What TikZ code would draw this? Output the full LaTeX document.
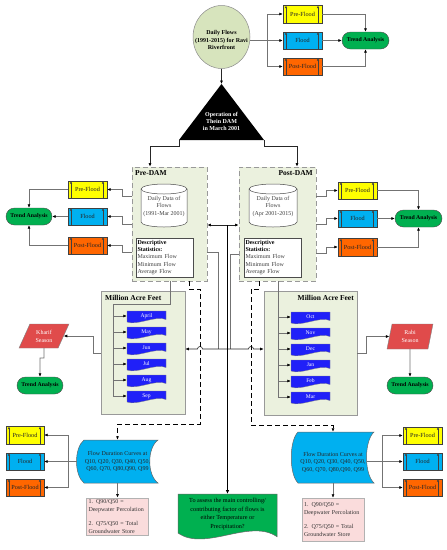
\documentclass[tikz,border=0pt]{standalone}
\usepackage{fontspec}
\setmainfont{Liberation Serif}
\usetikzlibrary{arrows.meta,shapes.geometric,calc}
\definecolor{cyel}{HTML}{FFFF00}
\definecolor{cblu}{HTML}{00B0F0}
\definecolor{corg}{HTML}{FF6600}
\definecolor{cgrn}{HTML}{00B050}
\definecolor{cbox}{HTML}{EBF1DE}
\definecolor{ccirc}{HTML}{D7E4BD}
\definecolor{cmon}{HTML}{2020F8}
\definecolor{cred}{HTML}{E04B4B}
\definecolor{cpink}{HTML}{FADCDC}
\newcommand\monthshape[2]{%
 \filldraw[fill=cmon, draw=black!50, line width=0.3pt] ({#1-19.5},{#2-5.5}) -- ({#1+19.5},{#2-5.5}) -- ({#1+19.5},{#2+3}) .. controls ({#1+9.75},{#2-1.5}) and ({#1-9.75},{#2+9.5}) .. ({#1-19.5},{#2+5.5}) -- cycle;}
\begin{document}
\begin{tikzpicture}[x=1pt,y=-1pt,
 fs/.style={font=\fontsize{6}{7.2}\selectfont},
 flbox/.style={draw=black!75, line width=0.4pt, minimum width=39pt, minimum height=17.5pt, inner sep=0pt, font=\fontsize{6.2}{7}\selectfont, text=black!85,
   path picture={
     \draw[line width=0.4pt, -{Latex[length=2.5pt,width=2.2pt]}] ([xshift=3pt]path picture bounding box.south west) -- ([xshift=3pt,yshift=-0.3pt]path picture bounding box.north west);
     \draw[line width=0.4pt, -{Latex[length=2.5pt,width=2.2pt]}] ([xshift=-4pt]path picture bounding box.south east) -- ([xshift=-4pt,yshift=-0.3pt]path picture bounding box.north east);
   }},
 trend/.style={draw=black!70, fill=cgrn, line width=0.4pt, rounded corners=8.5pt, minimum width=47pt, minimum height=17pt, inner sep=0pt, font=\bfseries\fontsize{5.8}{7}\selectfont},
 conn/.style={draw=black!55, line width=0.55pt},
 dconn/.style={draw=black!85, line width=0.6pt},
 arr/.style={-{Latex[length=3.5pt,width=3pt,color=black]}},
 darr/.style={{Latex[length=3.5pt,width=3pt,color=black]}-{Latex[length=3.5pt,width=3pt,color=black]}},
 dashbox/.style={draw=black!40, dash pattern=on 5pt off 3pt, line width=0.8pt, fill=cbox, inner sep=0pt},
 mbox/.style={draw=black!40, fill=cbox, line width=0.6pt, inner sep=0pt},
 tdash/.style={draw=black, line width=1pt, dash pattern=on 5pt off 3pt},
 ttl/.style={font=\bfseries\fontsize{7.5}{9}\selectfont, inner sep=0pt},
 mon/.style={minimum width=39pt, minimum height=10pt, inner sep=0pt, text=white, font=\fontsize{5.6}{7}\selectfont},
 stat/.style={draw=black!70, fill=white, line width=0.5pt, minimum width=57pt, minimum height=39pt, text width=54pt, align=left, inner sep=1.5pt, font=\fontsize{6}{7.2}\selectfont, text=black!75},
 cyltxt/.style={align=center, font=\fontsize{6}{7.2}\selectfont, text=black!75},
 qbox/.style={draw=black!30, fill=cpink, line width=0.5pt, minimum width=62pt, text width=58pt, align=left, inner sep=2pt, font=\fontsize{6}{7.8}\selectfont, text=black!80},
 para/.style={trapezium, trapezium stretches=true, fill=cred, draw=black!50, line width=0.4pt, text=white, align=center, inner sep=0pt, font=\fontsize{6}{8}\selectfont}
]
\useasboundingbox (0,0) rectangle (447,550);
\fill[white] (0,0) rectangle (447,550);

% ---------- top ----------
\node[ellipse, draw=black!45, fill=ccirc, line width=0.5pt, minimum width=57pt, minimum height=63pt, inner sep=0pt] (circ) at (221.5,37) {};
\node[align=center, font=\bfseries\fontsize{6}{7.3}\selectfont, inner sep=0pt] (circT) at (221.5,40) {Daily Flows\\(1991-2015) for Ravi\\Riverfront};

\node[flbox, fill=cyel] (preT) at (302.5,14) {Pre-Flood};
\node[flbox, fill=cblu] (flT) at (302.5,40.5) {Flood};
\node[flbox, fill=corg] (postT) at (302.5,66.5) {Post-Flood};
\node[trend] (trT) at (365.5,40.5) {Trend Analysis};

\draw[conn,arr] (circ.east |- flT.west) -- (flT.west);
\draw[conn,arr] (267,40.5) |- (preT.west);
\draw[conn,arr] (267,40.5) |- (postT.west);
\draw[conn,arr] (preT.east) -| (trT.north);
\draw[conn,arr] (flT.east) -- (trT.west);
\draw[conn,arr] (postT.east) -| (trT.south);

% triangle
\coordinate (damT) at (221.5,84);
\coordinate (damL) at (179,140);
\coordinate (damR) at (264,140);
\fill[black] (damT) -- (damR) -- (damL) -- cycle;
\node[align=center, text=white, font=\bfseries\fontsize{6}{7.4}\selectfont, inner sep=0pt] (dam) at (221.5,121.5) {Operation of\\Thein DAM\\in March 2001};
\draw[dconn,arr] (circ.south) -- (damT);

% ---------- Pre-DAM / Post-DAM ----------
\node[dashbox, minimum width=75pt, minimum height=114pt] (predam) at (169.5,224) {};
\node[dashbox, minimum width=77pt, minimum height=114pt] (postdam) at (277.5,224) {};
\node[ttl, anchor=west] (tpre) at (135,173) {Pre-DAM};
\node[ttl, anchor=east] (tpost) at (313,173) {Post-DAM};

\draw[dconn,arr] (damL) -- (179,146) -- (150,146) -- (predam.north -| 150,0);
\draw[dconn,arr] (damR) -- (264,146) -- (297,146) -- (postdam.north -| 297,0);

% cylinders
\filldraw[fill=white, draw=black!70, line width=0.5pt] (141,189) -- (141,222) arc[start angle=180, end angle=0, x radius=23, y radius=5] -- (187,189) arc[start angle=0, end angle=-180, x radius=23, y radius=5] -- cycle;
\draw[black!70, line width=0.5pt] (141,189) arc[start angle=180, end angle=0, x radius=23, y radius=5];
\node[cyltxt] (cylL) at (164,206.5) {Daily Data of\\Flows\\(1991-Mar 2001)};
\filldraw[fill=white, draw=black!70, line width=0.5pt] (249,189) -- (249,222) arc[start angle=180, end angle=0, x radius=24, y radius=5] -- (297,189) arc[start angle=0, end angle=-180, x radius=24, y radius=5] -- cycle;
\draw[black!70, line width=0.5pt] (249,189) arc[start angle=180, end angle=0, x radius=24, y radius=5];
\node[cyltxt] (cylR) at (273,206.5) {Daily Data of\\Flows\\(Apr 2001-2015)};

\node[stat] (statL) at (164.5,257.5) {\textcolor{black}{\textbf{Descriptive}}\\\textcolor{black}{\textbf{Statistics:}}\\Maximum Flow\\Minimum Flow\\Average Flow};
\node[stat] (statR) at (272.5,257.5) {\textcolor{black}{\textbf{Descriptive}}\\\textcolor{black}{\textbf{Statistics:}}\\Maximum Flow\\Minimum Flow\\Average Flow};

% left flood group
\node[flbox, fill=cyel] (preL) at (87.5,189.5) {Pre-Flood};
\node[flbox, fill=cblu] (flL) at (87.5,216.5) {Flood};
\node[flbox, fill=corg] (postL) at (87.5,245.5) {Post-Flood};
\node[trend, minimum width=46pt] (trL) at (29,216.5) {Trend Analysis};
\draw[conn,arr] (predam.west |- 0,196) -- (122,196) |- (preL.east);
\draw[conn,arr] (predam.west |- 0,224) -- (122,224) |- (flL.east);
\draw[conn,arr] (predam.west |- 0,252) -- (122,252) |- (postL.east);
\draw[conn,arr] (preL.west) -| (trL.north);
\draw[conn,arr] (flL.west) -- (trL.east);
\draw[conn,arr] (postL.west) -| (trL.south);

% right flood group
\node[flbox, fill=cyel] (preR) at (357.5,190.5) {Pre-Flood};
\node[flbox, fill=cblu] (flR) at (357.5,218.5) {Flood};
\node[flbox, fill=corg] (postR) at (357.5,247) {Post-Flood};
\node[trend] (trR) at (418.5,218.5) {Trend Analysis};
\draw[conn,arr] (postdam.east |- 0,196) -- (326,196) |- (preR.west);
\draw[conn,arr] (postdam.east |- 0,224) -- (326,224) |- (flR.west);
\draw[conn,arr] (postdam.east |- 0,253) -- (326,253) |- (postR.west);
\draw[conn,arr] (preR.east) -| (trR.north);
\draw[conn,arr] (flR.east) -- (trR.west);
\draw[conn,arr] (postR.east) -| (trR.south);

% ---------- Million Acre Feet ----------
\node[mbox, minimum width=84pt, minimum height=123pt] (mafL) at (143,352.5) {};
\node[mbox, minimum width=93pt, minimum height=124pt] (mafR) at (310.5,353) {};
\node[ttl, anchor=west] (tmafL) at (105,297.5) {Million Acre Feet};
\node[ttl, anchor=east] (tmafR) at (354,297.5) {Million Acre Feet};

\monthshape{146.5}{316.5}\node[mon] (apr) at (146.5,316) {April};
\monthshape{146.5}{332.5}\node[mon] (may) at (146.5,332) {May};
\monthshape{146.5}{348.5}\node[mon] (jun) at (146.5,348) {Jun};
\monthshape{146.5}{364.5}\node[mon] (jul) at (146.5,364) {Jul};
\monthshape{146.5}{380.5}\node[mon] (aug) at (146.5,380) {Aug};
\monthshape{146.5}{396.5}\node[mon] (sep) at (146.5,396) {Sep};
\monthshape{310.5}{317.5}\node[mon] (oct) at (310.5,317) {Oct};
\monthshape{310.5}{333.5}\node[mon] (nov) at (310.5,333) {Nov};
\monthshape{310.5}{349.5}\node[mon] (dec) at (310.5,349) {Dec};
\monthshape{310.5}{365.5}\node[mon] (jan) at (310.5,365) {Jan};
\monthshape{310.5}{381.5}\node[mon] (feb) at (310.5,381) {Feb};
\monthshape{310.5}{397.5}\node[mon] (mar) at (310.5,397) {Mar};

\draw[conn] (predam.south -| 170,0) -- (170,304) -- (113,304) -- (113,396);
\foreach \m in {apr,may,jun,jul,aug,sep} \draw[conn,arr] (\m.west -| 113,0) -- (\m.west);
\draw[conn] (postdam.south -| 278,0) -- (278,397);
\foreach \m in {oct,nov,dec,jan,feb,mar} \draw[conn,arr] (\m.west -| 278,0) -- (\m.west);

% seasons
\node[para, trapezium left angle=62, trapezium right angle=118, minimum width=50pt, minimum height=24pt] (kharif) at (44,336) {Kharif\\Season};
\node[para, trapezium left angle=79, trapezium right angle=101, minimum width=46pt, minimum height=25pt] (rabi) at (410,336.5) {Rabi\\Season};
\node[trend, minimum width=46pt] (trK) at (40,385.5) {Trend Analysis};
\node[trend, minimum width=46pt] (trRb) at (410,385.5) {Trend Analysis};
\draw[conn,arr] (mafL.west |- 0,353) -- (93,353) |- (kharif.east);
\draw[conn,arr] (mafR.east |- 0,353) -- (366,353) |- (rabi.west);
\draw[conn,arr] (kharif.south) -- (44,358) -| (trK.north);
\draw[conn,arr] (rabi.south) -- (trRb.north);

% ---------- centre connectors ----------
\draw[dconn,darr] (predam.east |- 0,225) -- (postdam.west |- 0,225);
\coordinate (jc) at (227.5,225);
\draw[conn] (predam.east |- 0,252) -- (218,252) -- (218,349);
\draw[conn] (postdam.west |- 0,254) -- (230,254) -- (230,349);
\draw[dconn,darr] (mafL.east |- 0,349) -- (197.5,349) arc[start angle=180, end angle=360, radius=2.5] -- (248.5,349) arc[start angle=180, end angle=360, radius=2.5] -- (mafR.west |- 0,349);

% dashed
\node[fs, inner sep=0pt, minimum width=81pt, minimum height=43pt] (fdcL) at (117.5,461.5) {};
\node[fs, inner sep=0pt, minimum width=82pt, minimum height=51pt] (fdcR) at (333,457.5) {};
\draw[tdash,arr] (predam.south -| 189,0) -- (189,289) -- (200,289) -- (200,424) -- (117.5,424) -- (fdcL.north);
\draw[tdash,arr] (postdam.south -| 259,0) -- (259,289) -- (251,289) -- (251,425) -- (333,425) -- (fdcR.north);

% ---------- bottom ----------
\filldraw[fill=cblu, draw=black!60, line width=0.5pt] (84,440) -- (158,440) .. controls (147,448) and (147,475) .. (158,483) -- (84,483) .. controls (74,475) and (74,448) .. (84,440) -- cycle;
\node[align=center, font=\fontsize{6}{7.5}\selectfont, text=black!85, inner sep=0pt] (fdcLt) at (117.5,461.5) {Flow Duration Curves at\\Q10, Q20, Q30, Q40, Q50,\\Q60, Q70, Q80,Q90, Q99};
\filldraw[fill=cblu, draw=black!60, line width=0.5pt] (298,432) -- (374,432) .. controls (364,441) and (364,474) .. (374,483) -- (298,483) .. controls (289,474) and (289,441) .. (298,432) -- cycle;
\node[align=center, font=\fontsize{6}{7.5}\selectfont, text=black!85, inner sep=0pt] (fdcRt) at (333,462) {Flow Duration Curves at\\Q10, Q20, Q30, Q40, Q50,\\Q60, Q70, Q80,Q90, Q99};
\coordinate (fdcRe) at (367,461.5);

\node[flbox, fill=cyel, minimum width=38pt] (preBL) at (25,435) {Pre-Flood};
\node[flbox, fill=cblu, minimum width=38pt] (flBL) at (25,461.5) {Flood};
\node[flbox, fill=corg, minimum width=38pt] (postBL) at (25,487.5) {Post-Flood};
\draw[conn] (fdcL.west) -- (68,461.5);
\draw[conn,arr] (68,461.5) |- (preBL.east);
\draw[conn,arr] (68,461.5) -- (flBL.east);
\draw[conn,arr] (68,461.5) |- (postBL.east);

\node[flbox, fill=cyel] (preBR) at (422.5,435.5) {Pre-Flood};
\node[flbox, fill=cblu] (flBR) at (422.5,461.5) {Flood};
\node[flbox, fill=corg] (postBR) at (422.5,487.5) {Post-Flood};
\draw[conn] (fdcRe) -- (382,461.5);
\draw[conn,arr] (382,461.5) |- (preBR.west);
\draw[conn,arr] (382,461.5) -- (flBR.west);
\draw[conn,arr] (382,461.5) |- (postBR.west);

\node[qbox, minimum height=37pt] (qL) at (117.5,516.5) {1. Q90/Q50 =\\Deepwater Percolation\\[6pt]2. Q75/Q50 = Total\\Groundwater Store};
\node[qbox, minimum height=43pt] (qR) at (333,519.5) {1. Q90/Q50 =\\Deepwater Percolation\\[6pt]2. Q75/Q50 = Total\\Groundwater Store};
\draw[conn,arr] (fdcL.south) -- (qL.north);
\draw[conn,arr] (fdcR.south) -- (qR.north);

% green document
\filldraw[fill=cgrn, draw=black!60, line width=0.5pt] (178,494) -- (277,494) -- (277,536.7) .. controls (250,518) and (205,552) .. (178,533) -- cycle;
\node[align=center, font=\fontsize{6.2}{8.6}\selectfont, inner sep=0pt] (goal) at (227.5,514) {To assess the main controlling/\\contributing factor of flows is\\either Temperature or\\Precipitation?};
\coordinate (goalN) at (227.5,494);
\draw[draw=black, line width=1.1pt, -{Latex[length=4pt,width=3.5pt]}] (jc) -- (goalN);

\end{tikzpicture}
\end{document}
